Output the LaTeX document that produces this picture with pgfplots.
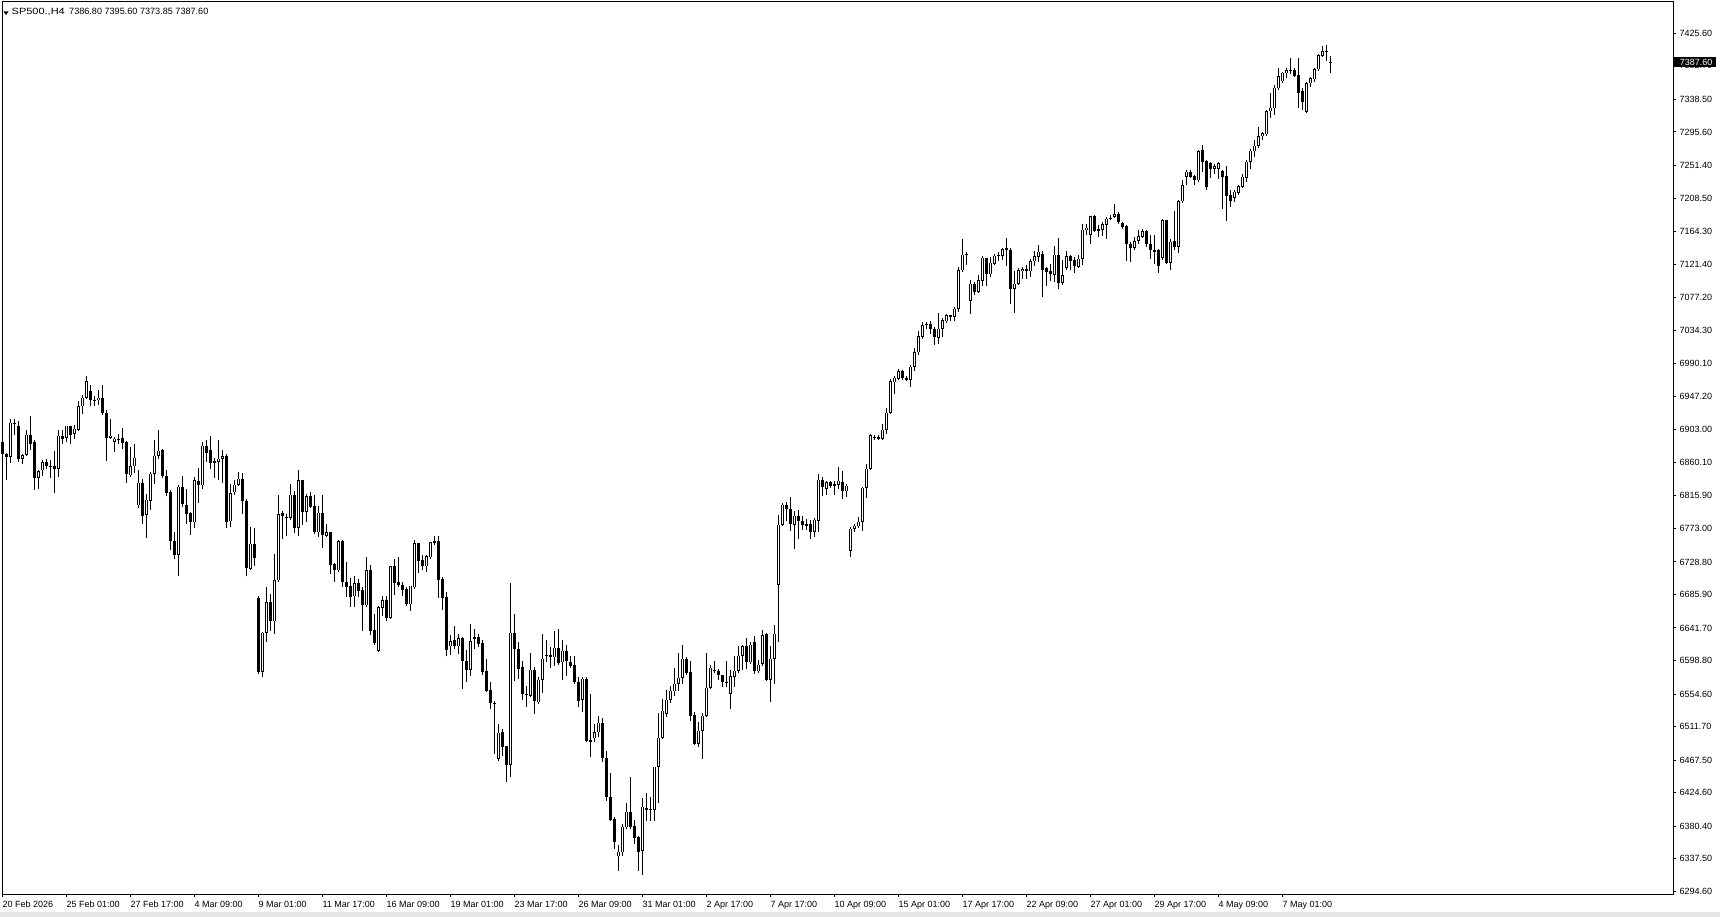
\documentclass[border=0pt]{standalone}
\usepackage{pgfplots}
\pgfplotsset{compat=1.18}
\usepackage{pgfplotstable}
\usepackage{graphicx}
\usepackage{fontspec}
\setmainfont{Liberation Sans}

% SP500 H4 candles: bar index, open, high, low, close
\pgfplotstableread{
i o h l c
0 6886.9 6894.4 6870.6 6871.5
1 6871.5 6872.4 6836.3 6867.1
2 6867.1 6917.7 6859.2 6912.4
3 6912.4 6916.8 6895.7 6912.0
4 6907.6 6914.2 6860.5 6864.0
5 6864.9 6870.6 6857.4 6869.3
6 6870.2 6902.3 6868.0 6896.6
7 6896.6 6920.8 6875.9 6884.7
8 6886.5 6889.1 6824.0 6839.4
9 6839.8 6850.4 6825.3 6848.2
10 6849.5 6862.7 6841.6 6860.1
11 6860.1 6864.9 6851.7 6855.2
12 6855.7 6862.7 6839.4 6855.2
13 6855.7 6875.0 6819.6 6851.3
14 6851.3 6902.3 6840.7 6895.3
15 6894.4 6903.2 6884.7 6890.9
16 6892.6 6908.5 6886.9 6908.5
17 6908.5 6908.5 6884.7 6896.6
18 6897.9 6908.9 6891.3 6904.5
19 6903.2 6941.0 6903.2 6934.0
20 6934.0 6949.4 6924.3 6945.4
21 6945.4 6973.6 6944.1 6967.0
22 6953.8 6961.7 6934.0 6941.9
23 6941.9 6947.2 6934.4 6941.5
24 6941.9 6955.1 6935.3 6945.4
25 6945.4 6961.7 6923.0 6925.2
26 6925.6 6929.6 6861.8 6892.2
27 6892.2 6917.7 6891.3 6895.3
28 6887.3 6893.5 6873.7 6891.3
29 6891.3 6897.9 6883.8 6890.9
30 6892.6 6905.8 6877.7 6885.6
31 6886.5 6887.8 6832.8 6845.1
32 6843.3 6880.3 6841.6 6855.2
33 6855.2 6884.7 6846.0 6866.2
34 6803.7 6849.5 6800.2 6833.2
35 6833.2 6837.6 6778.2 6789.7
36 6791.0 6817.8 6760.2 6810.8
37 6809.5 6846.9 6796.7 6845.1
38 6845.1 6890.0 6831.9 6868.9
39 6868.9 6903.2 6864.9 6875.5
40 6876.8 6878.1 6839.8 6842.0
41 6842.5 6849.5 6815.2 6820.0
42 6820.5 6823.1 6743.9 6756.2
43 6755.8 6768.1 6732.5 6738.2
44 6738.2 6829.7 6710.5 6827.9
45 6827.9 6841.6 6801.1 6804.6
46 6804.2 6825.3 6778.2 6791.4
47 6793.2 6794.5 6764.6 6781.3
48 6781.3 6840.7 6773.8 6836.3
49 6835.0 6853.0 6806.4 6830.1
50 6830.1 6886.5 6825.3 6882.1
51 6882.1 6889.1 6860.5 6872.4
52 6875.9 6895.3 6851.3 6859.2
53 6861.8 6866.2 6839.8 6859.6
54 6860.5 6889.1 6836.3 6864.9
55 6864.9 6876.8 6832.8 6868.0
56 6868.0 6871.5 6773.8 6781.3
57 6782.2 6831.9 6774.7 6819.6
58 6820.9 6836.3 6817.4 6830.6
59 6830.6 6847.3 6829.7 6838.5
60 6838.5 6846.0 6792.3 6809.0
61 6808.6 6811.2 6709.6 6720.6
62 6719.7 6774.7 6719.7 6752.7
63 6752.7 6773.4 6722.8 6734.2
64 6681.4 6683.6 6582.0 6583.3
65 6584.3 6636.2 6576.8 6635.3
66 6635.3 6695.6 6623.0 6675.8
67 6675.8 6686.8 6637.5 6650.7
68 6650.7 6738.7 6634.0 6704.4
69 6704.4 6816.6 6704.4 6791.5
70 6793.7 6795.9 6759.4 6788.9
71 6788.0 6792.4 6762.5 6787.6
72 6786.7 6831.1 6784.5 6817.5
73 6817.5 6822.3 6766.9 6773.5
74 6773.9 6850.5 6763.4 6836.4
75 6837.3 6837.3 6777.0 6794.6
76 6794.6 6818.8 6781.4 6815.3
77 6815.3 6820.6 6800.3 6801.2
78 6802.1 6816.6 6766.9 6768.2
79 6768.2 6802.1 6761.6 6793.7
80 6793.7 6816.6 6747.1 6764.2
81 6763.4 6779.2 6762.5 6767.8
82 6767.8 6767.8 6713.2 6725.1
83 6725.5 6727.3 6702.2 6718.0
84 6718.0 6758.1 6717.6 6756.3
85 6756.3 6758.1 6695.6 6702.2
86 6701.8 6728.6 6682.4 6695.6
87 6696.5 6707.9 6669.2 6682.4
88 6683.7 6709.7 6669.2 6700.4
89 6701.3 6706.6 6682.4 6690.3
90 6691.2 6695.6 6637.5 6671.4
91 6671.4 6735.2 6669.2 6717.6
92 6717.6 6724.2 6631.8 6637.5
93 6638.4 6660.4 6621.7 6621.7
94 6612.0 6670.5 6611.1 6669.2
95 6668.3 6683.3 6656.9 6678.0
96 6678.0 6683.3 6650.7 6655.1
97 6655.1 6722.9 6655.1 6722.9
98 6722.9 6733.0 6684.6 6700.9
99 6701.8 6735.2 6695.6 6698.2
100 6697.8 6702.2 6683.3 6691.2
101 6693.0 6695.6 6671.4 6672.7
102 6673.2 6697.4 6663.9 6697.4
103 6695.6 6758.1 6695.6 6753.2
104 6753.2 6753.2 6714.1 6729.9
105 6730.8 6737.4 6718.5 6722.9
106 6722.9 6737.4 6715.4 6736.1
107 6735.2 6754.6 6735.2 6754.6
108 6755.9 6763.4 6751.0 6753.7
109 6755.9 6762.5 6681.5 6705.3
110 6706.6 6708.8 6665.7 6681.1
111 6682.4 6689.0 6604.1 6613.3
112 6617.7 6631.8 6606.7 6623.9
113 6625.2 6643.7 6614.2 6617.7
114 6617.7 6634.0 6607.6 6628.3
115 6628.3 6629.6 6561.4 6598.8
116 6598.8 6612.9 6570.2 6586.9
117 6586.9 6646.3 6579.0 6623.9
118 6629.2 6640.6 6614.2 6627.0
119 6629.6 6633.1 6616.4 6620.8
120 6621.7 6625.2 6580.3 6584.3
121 6585.6 6601.0 6558.3 6559.2
122 6560.1 6570.2 6535.0 6542.5
123 6542.9 6546.0 6475.6 6542.0
124 6469.0 6515.2 6466.8 6503.3
125 6505.1 6508.6 6473.4 6484.4
126 6485.7 6486.6 6438.2 6461.1
127 6461.1 6701.3 6445.7 6635.3
128 6635.3 6660.4 6572.4 6614.2
129 6614.2 6623.0 6574.6 6587.8
130 6590.9 6598.8 6546.9 6554.8
131 6554.4 6565.8 6537.2 6554.8
132 6552.6 6608.9 6551.3 6586.5
133 6586.5 6590.0 6528.4 6545.1
134 6543.8 6577.7 6542.5 6573.3
135 6573.3 6634.0 6556.1 6601.0
136 6606.7 6626.1 6596.6 6604.5
137 6606.7 6616.4 6589.1 6603.2
138 6603.2 6637.1 6592.2 6615.5
139 6615.5 6640.6 6594.4 6595.3
140 6596.6 6626.1 6573.3 6612.0
141 6612.0 6619.9 6579.0 6597.9
142 6597.5 6605.4 6589.1 6592.2
143 6593.5 6605.4 6568.9 6570.2
144 6571.1 6576.8 6537.2 6546.0
145 6546.9 6576.8 6530.6 6574.6
146 6574.6 6577.7 6492.3 6493.2
147 6494.5 6554.8 6472.1 6491.0
148 6496.3 6515.2 6491.0 6504.2
149 6504.2 6526.2 6498.5 6516.5
150 6516.5 6523.1 6464.6 6469.9
151 6470.3 6480.0 6414.0 6418.4
152 6419.3 6450.5 6387.6 6388.9
153 6389.8 6392.0 6350.2 6359.0
154 6340.5 6355.5 6321.6 6346.7
155 6345.8 6383.2 6341.4 6379.7
156 6378.8 6410.5 6377.5 6399.5
157 6399.5 6444.8 6376.6 6379.7
158 6381.0 6388.5 6356.8 6364.3
159 6365.6 6367.8 6321.6 6345.8
160 6348.0 6417.5 6316.3 6406.1
161 6404.3 6423.7 6387.6 6402.1
162 6403.0 6419.3 6386.7 6403.2
163 6402.1 6458.9 6387.6 6458.9
164 6458.9 6529.3 6410.5 6496.7
165 6496.7 6548.2 6495.4 6532.8
166 6528.4 6560.1 6524.9 6546.9
167 6546.9 6565.8 6542.5 6559.2
168 6558.3 6589.1 6551.7 6568.0
169 6568.0 6608.5 6558.3 6575.9
170 6575.9 6618.6 6568.0 6601.0
171 6601.0 6603.2 6580.3 6582.1
172 6584.3 6598.8 6518.7 6526.2
173 6527.1 6530.6 6488.8 6488.8
174 6488.8 6517.4 6485.3 6506.4
175 6506.4 6529.3 6469.0 6526.2
176 6526.2 6608.9 6524.0 6562.7
177 6562.7 6593.5 6562.7 6589.1
178 6586.5 6598.8 6582.1 6584.7
179 6585.6 6587.8 6573.7 6579.9
180 6579.9 6579.9 6563.6 6570.2
181 6571.1 6598.8 6563.6 6570.6
182 6554.8 6586.5 6534.6 6578.1
183 6577.7 6604.1 6564.5 6585.2
184 6585.2 6617.7 6582.1 6605.4
185 6605.4 6618.6 6586.5 6617.3
186 6617.3 6628.7 6587.8 6596.6
187 6596.6 6623.0 6594.4 6619.9
188 6623.0 6630.5 6581.2 6584.7
189 6584.7 6599.7 6582.1 6593.1
190 6594.4 6638.4 6592.2 6631.8
191 6633.1 6634.9 6572.4 6573.7
192 6573.3 6617.3 6543.8 6601.0
193 6601.0 6645.0 6568.0 6634.0
194 6698.7 6790.2 6623.0 6777.9
195 6777.9 6806.5 6777.0 6804.3
196 6804.3 6807.8 6782.7 6799.0
197 6798.7 6814.1 6770.1 6778.9
198 6777.6 6796.5 6745.9 6789.9
199 6789.9 6797.8 6759.1 6782.9
200 6783.3 6789.9 6771.0 6777.6
201 6778.9 6785.5 6771.4 6776.7
202 6778.9 6784.6 6759.1 6767.9
203 6768.8 6786.4 6761.3 6784.6
204 6783.3 6844.9 6767.9 6837.4
205 6837.4 6840.5 6816.3 6827.3
206 6825.1 6836.1 6817.2 6833.9
207 6833.9 6836.1 6827.3 6828.6
208 6831.3 6836.1 6817.2 6829.5
209 6830.4 6853.7 6825.1 6836.1
210 6833.9 6848.0 6811.9 6822.0
211 6822.0 6831.7 6814.1 6829.5
212 6743.7 6774.5 6734.9 6772.3
213 6772.3 6778.9 6767.9 6776.7
214 6775.8 6787.7 6775.8 6782.0
215 6782.0 6827.3 6770.1 6826.4
216 6826.4 6858.1 6812.8 6851.5
217 6851.5 6897.3 6851.5 6895.5
218 6893.3 6895.5 6889.8 6892.9
219 6892.9 6895.5 6890.2 6891.1
220 6891.1 6910.9 6888.9 6903.0
221 6903.0 6931.6 6897.7 6925.4
222 6925.4 6969.4 6925.4 6966.8
223 6965.9 6973.4 6950.5 6971.6
224 6970.3 6982.6 6968.1 6980.0
225 6980.0 6981.3 6968.1 6971.2
226 6971.6 6973.8 6966.8 6969.0
227 6969.0 6988.8 6959.3 6986.1
228 6986.1 7010.8 6980.0 7005.5
229 7005.5 7032.8 7002.0 7026.2
230 7025.3 7045.1 7023.1 7040.7
231 7042.0 7045.1 7036.3 7040.7
232 7042.0 7046.0 7029.7 7036.3
233 7036.3 7038.5 7015.2 7025.3
234 7024.4 7057.4 7016.5 7036.3
235 7036.3 7050.4 7025.3 7047.3
236 7046.0 7056.1 7045.1 7053.9
237 7053.9 7054.8 7046.0 7051.7
238 7051.7 7064.9 7046.0 7062.7
239 7062.7 7117.7 7058.3 7113.3
240 7113.3 7155.1 7111.1 7134.0
241 7134.0 7137.5 7120.8 7134.3
242 7072.8 7100.1 7055.2 7095.7
243 7095.7 7097.9 7080.3 7084.7
244 7084.7 7106.7 7083.8 7100.1
245 7099.2 7131.8 7092.6 7129.6
246 7129.6 7129.6 7092.6 7108.0
247 7108.0 7130.9 7104.5 7123.4
248 7122.1 7135.3 7121.2 7132.2
249 7132.2 7137.5 7125.2 7133.1
250 7132.2 7142.8 7126.5 7141.0
251 7142.3 7156.0 7119.0 7140.1
252 7140.1 7142.8 7069.3 7089.1
253 7089.1 7112.0 7057.0 7095.7
254 7095.7 7116.4 7095.7 7113.3
255 7112.9 7117.7 7102.3 7114.6
256 7114.6 7119.9 7102.3 7112.4
257 7112.0 7128.7 7104.5 7125.2
258 7125.2 7138.4 7119.0 7131.8
259 7130.9 7146.3 7124.3 7137.5
260 7135.3 7138.4 7078.1 7114.2
261 7116.4 7117.7 7092.6 7111.1
262 7112.0 7122.1 7098.8 7108.9
263 7107.5 7145.3 7097.8 7133.9
264 7133.0 7155.9 7088.1 7096.9
265 7096.9 7126.4 7093.4 7106.6
266 7116.3 7138.3 7113.2 7131.7
267 7131.7 7133.0 7113.2 7125.5
268 7126.4 7130.8 7110.1 7118.9
269 7117.6 7133.9 7116.3 7128.6
270 7128.6 7174.8 7120.7 7166.9
271 7166.0 7174.8 7160.3 7169.5
272 7160.3 7184.5 7148.4 7184.5
273 7184.5 7185.8 7163.8 7165.1
274 7167.3 7172.6 7157.2 7165.1
275 7166.9 7177.0 7158.5 7173.9
276 7173.5 7183.6 7155.0 7181.4
277 7182.7 7185.8 7179.2 7181.4
278 7183.6 7201.2 7182.3 7187.1
279 7187.1 7190.2 7174.8 7177.0
280 7176.1 7177.0 7168.2 7170.4
281 7171.3 7172.6 7125.1 7147.5
282 7148.4 7150.6 7124.2 7142.7
283 7142.7 7157.2 7139.6 7151.5
284 7151.9 7166.9 7148.4 7158.1
285 7157.2 7167.3 7155.9 7164.7
286 7164.7 7166.0 7144.0 7147.5
287 7148.4 7160.3 7128.6 7140.5
288 7140.5 7160.3 7122.0 7137.4
289 7139.6 7141.8 7110.1 7118.9
290 7129.5 7181.4 7127.3 7179.2
291 7179.2 7179.2 7122.9 7122.9
292 7122.9 7154.1 7113.2 7150.6
293 7151.5 7191.1 7139.6 7144.0
294 7144.0 7205.6 7136.5 7204.3
295 7204.3 7232.0 7203.4 7225.4
296 7236.4 7245.2 7225.4 7243.0
297 7243.0 7245.2 7235.1 7236.4
298 7237.3 7238.6 7226.3 7232.0
299 7232.0 7271.6 7230.7 7270.3
300 7271.6 7278.2 7243.0 7256.2
301 7257.1 7258.4 7218.8 7223.2
302 7254.9 7256.2 7235.1 7247.4
303 7247.4 7253.1 7239.5 7250.5
304 7247.4 7256.2 7233.3 7254.0
305 7243.9 7245.2 7193.7 7236.4
306 7237.3 7250.5 7178.3 7211.3
307 7212.2 7218.8 7196.8 7204.7
308 7209.1 7218.8 7203.4 7216.6
309 7215.7 7225.4 7213.1 7224.1
310 7223.2 7239.5 7221.9 7236.4
311 7235.5 7258.4 7229.8 7256.2
312 7256.2 7272.9 7247.4 7270.7
313 7270.3 7284.8 7262.8 7277.3
314 7277.3 7302.4 7274.7 7290.1
315 7290.1 7295.8 7284.8 7293.6
316 7292.7 7324.4 7292.3 7323.1
317 7323.1 7346.4 7313.4 7327.5
318 7326.6 7357.4 7317.8 7353.9
319 7353.0 7379.4 7350.8 7369.3
320 7362.7 7375.0 7361.8 7373.7
321 7372.8 7379.4 7366.2 7377.2
322 7377.2 7393.5 7371.5 7376.8
323 7377.2 7379.4 7368.4 7369.7
324 7370.6 7392.6 7327.5 7347.3
325 7349.5 7353.0 7324.4 7335.4
326 7322.2 7361.8 7322.2 7359.6
327 7359.6 7368.4 7355.2 7366.2
328 7365.3 7379.4 7361.8 7378.1
329 7378.1 7397.9 7377.2 7397.0
330 7396.1 7409.3 7394.8 7402.3
331 7402.3 7410.2 7389.1 7402.0
332 7386.8 7395.6 7373.85 7387.6
}\candles

\begin{document}
\begin{tikzpicture}[x=1pt,y=1pt]
\path[use as bounding box] (0,0) rectangle (1720,-917);
\fill[black!10] (0,-912) rectangle (1720,-917);
\begin{axis}[
  at={(2pt,-2pt)}, anchor=north west,
  scale only axis, width=1671.3pt, height=892pt,
  xmin=-0.083, xmax=417.74, ymin=6291.0, ymax=7466.9,
  clip=false,
  axis line style={line width=1pt, black},
  tick style={line width=1pt, black},
  major tick length=3pt, tick align=outside,
  ytick pos=right, xtick pos=bottom,
  ytick={7425.60,7382.70,7338.50,7295.60,7251.40,7208.50,7164.30,7121.40,7077.20,7034.30,6990.10,6947.20,6903.00,6860.10,6815.90,6773.00,6728.80,6685.90,6641.70,6598.80,6554.60,6511.70,6467.50,6424.60,6380.40,6337.50,6294.60},
  yticklabels={7425.60,7382.70,7338.50,7295.60,7251.40,7208.50,7164.30,7121.40,7077.20,7034.30,6990.10,6947.20,6903.00,6860.10,6815.90,6773.00,6728.80,6685.90,6641.70,6598.80,6554.60,6511.70,6467.50,6424.60,6380.40,6337.50,6294.60},
  xtick={0,16,...,320},
  xticklabels={20 Feb 2026,25 Feb 01:00,27 Feb 17:00,4 Mar 09:00,9 Mar 01:00,11 Mar 17:00,16 Mar 09:00,19 Mar 01:00,23 Mar 17:00,26 Mar 09:00,31 Mar 01:00,2 Apr 17:00,7 Apr 17:00,10 Apr 09:00,15 Apr 01:00,17 Apr 17:00,22 Apr 09:00,27 Apr 01:00,29 Apr 17:00,4 May 09:00,7 May 01:00},
  tick label style={font=\fontsize{9}{11}\selectfont, inner sep=0pt},
  yticklabel style={anchor=west, xshift=3pt},
  xticklabel style={anchor=north west, yshift=-4pt},
]
% wicks
\addplot[draw=none, mark=none, forget plot,
  error bars/.cd, y dir=plus, y explicit, error mark=none,
  error bar style={draw=black, line width=1pt}]
  table[x=i, y=l, y error plus expr=\thisrow{h}-\thisrow{l}] {\candles};
% body outlines (black)
\addplot[draw=none, mark=none, forget plot,
  error bars/.cd, y dir=minus, y explicit, error mark=|,
  error mark options={rotate=90, draw=black, line width=1pt, mark size=1.5pt},
  error bar style={draw=black, line width=3pt}]
  table[x=i, y expr={max(\thisrow{o},\thisrow{c})},
        y error minus expr={abs(\thisrow{o}-\thisrow{c})}] {\candles};
% white interiors of rising candles
\addplot[draw=none, mark=none, forget plot,
  error bars/.cd, y dir=minus, y explicit, error mark=none,
  error bar style={draw=white, line width=1pt}]
  table[x expr={\thisrow{c}-\thisrow{o}>1.4 ? \thisrow{i} : nan},
        y expr={\thisrow{c}-0.66},
        y error minus expr={\thisrow{c}-\thisrow{o}-1.32}] {\candles};
\coordinate (tag) at (axis cs:417.74,7387.6);
\coordinate (hdr) at (rel axis cs:0,1);
\end{axis}
\fill[black] ([yshift=5pt]tag) rectangle ([xshift=42.4pt,yshift=-5pt]tag);
\node[anchor=west, inner sep=0pt, text=white, font=\fontsize{9}{11}\selectfont] at ([xshift=6.3pt]tag) {7387.60};
\fill[black] ([xshift=1.5pt,yshift=-9.5pt]hdr) -- ++(5pt,0) -- ++(-2.5pt,-3.5pt) -- cycle;
\node[anchor=base west, inner sep=0pt, font=\fontsize{9}{11}\selectfont] at ([xshift=9.5pt,yshift=-13pt]hdr) {\scalebox{1.22}[1]{SP500.,H4}};
\node[anchor=base west, inner sep=0pt, font=\fontsize{9.1}{11}\selectfont] at ([xshift=67pt,yshift=-13pt]hdr) {7386.80 7395.60 7373.85 7387.60};
\end{tikzpicture}
\end{document}
